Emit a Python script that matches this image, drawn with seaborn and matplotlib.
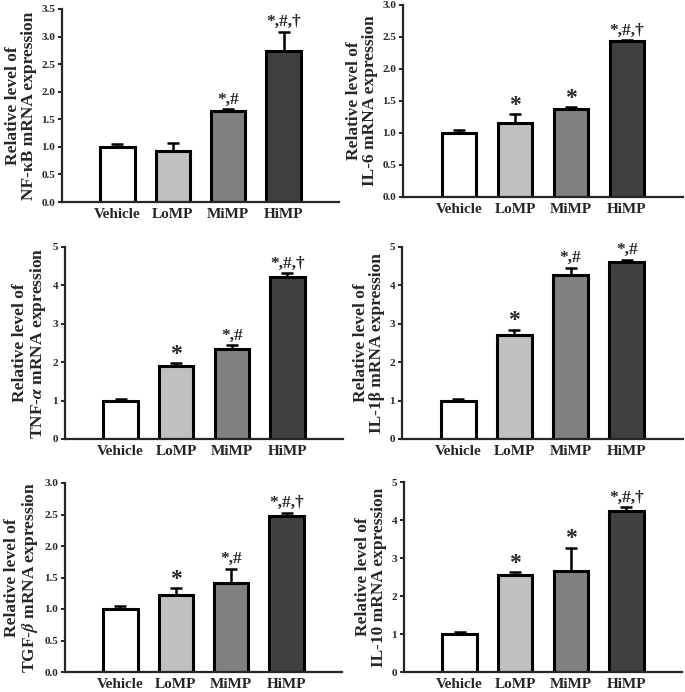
import numpy as np
import matplotlib
matplotlib.use("Agg")
import matplotlib.pyplot as plt
import seaborn as sns

# data
groups = ["Vehicle", "LoMP", "MiMP", "HiMP"]
bar_colors = ["#ffffff", "#c0c0c0", "#808080", "#404040"]

nfkb_mean = [1.00, 0.93, 1.65, 2.74]
nfkb_err = [0.05, 0.14, 0.04, 0.35]
nfkb_sig = ["", "", "*,#", "*,#,\u2020"]

il6_mean = [1.00, 1.15, 1.38, 2.43]
il6_err = [0.05, 0.14, 0.02, 0.02]
il6_sig = ["", "*", "*", "*,#,\u2020"]

tnfa_mean = [1.00, 1.90, 2.34, 4.22]
tnfa_err = [0.05, 0.07, 0.10, 0.10]
tnfa_sig = ["", "*", "*,#", "*,#,\u2020"]

il1b_mean = [1.00, 2.70, 4.28, 4.60]
il1b_err = [0.05, 0.15, 0.18, 0.07]
il1b_sig = ["", "*", "*,#", "*,#"]

tgfb_mean = [1.00, 1.23, 1.42, 2.48]
tgfb_err = [0.05, 0.10, 0.22, 0.05]
tgfb_sig = ["", "*", "*,#", "*,#,\u2020"]

il10_mean = [1.00, 2.55, 2.65, 4.23]
il10_err = [0.05, 0.07, 0.62, 0.10]
il10_sig = ["", "*", "*", "*,#,\u2020"]

sns.set_style("ticks")
plt.rcParams["font.family"] = ["Liberation Serif", "DejaVu Serif"]
plt.rcParams["font.weight"] = "bold"
plt.rcParams["axes.labelweight"] = "bold"
plt.rcParams["mathtext.fontset"] = "stix"

W, H = 685, 692
fig = plt.figure(figsize=(W / 100, H / 100), dpi=100)


def make_axes(left, right, top, bottom):
    # pixel box -> figure fraction
    return fig.add_axes([left / W, 1 - bottom / H, (right - left) / W, (bottom - top) / H])


def panel(ax, means, errs, sigs, ylabel, ymax, yticks, fmt):
    sns.barplot(x=groups, y=means, hue=groups, palette=bar_colors, width=0.62,
                edgecolor="black", linewidth=2.2, legend=False, saturation=1, ax=ax)
    ax.errorbar(range(len(groups)), means, yerr=[np.zeros(len(errs)), errs],
                fmt="none", ecolor="black", elinewidth=1.8, capsize=4.5,
                capthick=1.8, zorder=3)
    for i, s in enumerate(sigs):
        if not s:
            continue
        size = 17 if s == "*" else 12.5
        off = -1 if s == "*" else 1
        ax.annotate(s, (i, means[i] + errs[i]), xytext=(0, off),
                    textcoords="offset points", ha="center", va="bottom",
                    fontsize=size, fontweight="bold")
    ax.set_xlim(-1, 4)
    ax.set_ylim(0, ymax)
    ax.set_yticks(yticks)
    ax.set_yticklabels([fmt.format(t) for t in yticks], fontsize=8, fontweight="bold")
    ax.set_ylabel(ylabel, fontsize=12.5, labelpad=3, linespacing=1.0)
    ax.set_xlabel("")
    ax.tick_params(axis="x", length=0, labelsize=11, pad=4)
    ax.tick_params(axis="y", direction="out", length=3, width=1.4, pad=2)
    for lab in ax.get_xticklabels():
        lab.set_fontweight("bold")
    sns.despine(ax=ax)
    for sp in ["left", "bottom"]:
        ax.spines[sp].set_linewidth(1.6)


ax1 = make_axes(62, 339, 9, 202)
panel(ax1, nfkb_mean, nfkb_err, nfkb_sig,
      "Relative level of\nNF-\u03baB mRNA expression", 3.5,
      [0, 0.5, 1.0, 1.5, 2.0, 2.5, 3.0, 3.5], "{:.1f}")

ax2 = make_axes(403, 683, 5, 197)
panel(ax2, il6_mean, il6_err, il6_sig,
      "Relative level of\nIL-6 mRNA expression", 3.0,
      [0, 0.5, 1.0, 1.5, 2.0, 2.5, 3.0], "{:.1f}")

ax3 = make_axes(65, 343, 247, 439)
panel(ax3, tnfa_mean, tnfa_err, tnfa_sig,
      "Relative level of\nTNF-$\\alpha$ mRNA expression", 5,
      [0, 1, 2, 3, 4, 5], "{:d}")

ax4 = make_axes(402, 683, 247, 439)
panel(ax4, il1b_mean, il1b_err, il1b_sig,
      "Relative level of\nIL-1\u03b2 mRNA expression", 5,
      [0, 1, 2, 3, 4, 5], "{:d}")

ax5 = make_axes(65, 342, 483, 672)
panel(ax5, tgfb_mean, tgfb_err, tgfb_sig,
      "Relative level of\nTGF-$\\beta$ mRNA expression", 3.0,
      [0, 0.5, 1.0, 1.5, 2.0, 2.5, 3.0], "{:.1f}")

ax6 = make_axes(404, 682, 482, 672)
panel(ax6, il10_mean, il10_err, il10_sig,
      "Relative level of\nIL-10 mRNA expression", 5,
      [0, 1, 2, 3, 4, 5], "{:d}")

fig.savefig("out.png", dpi=100)
